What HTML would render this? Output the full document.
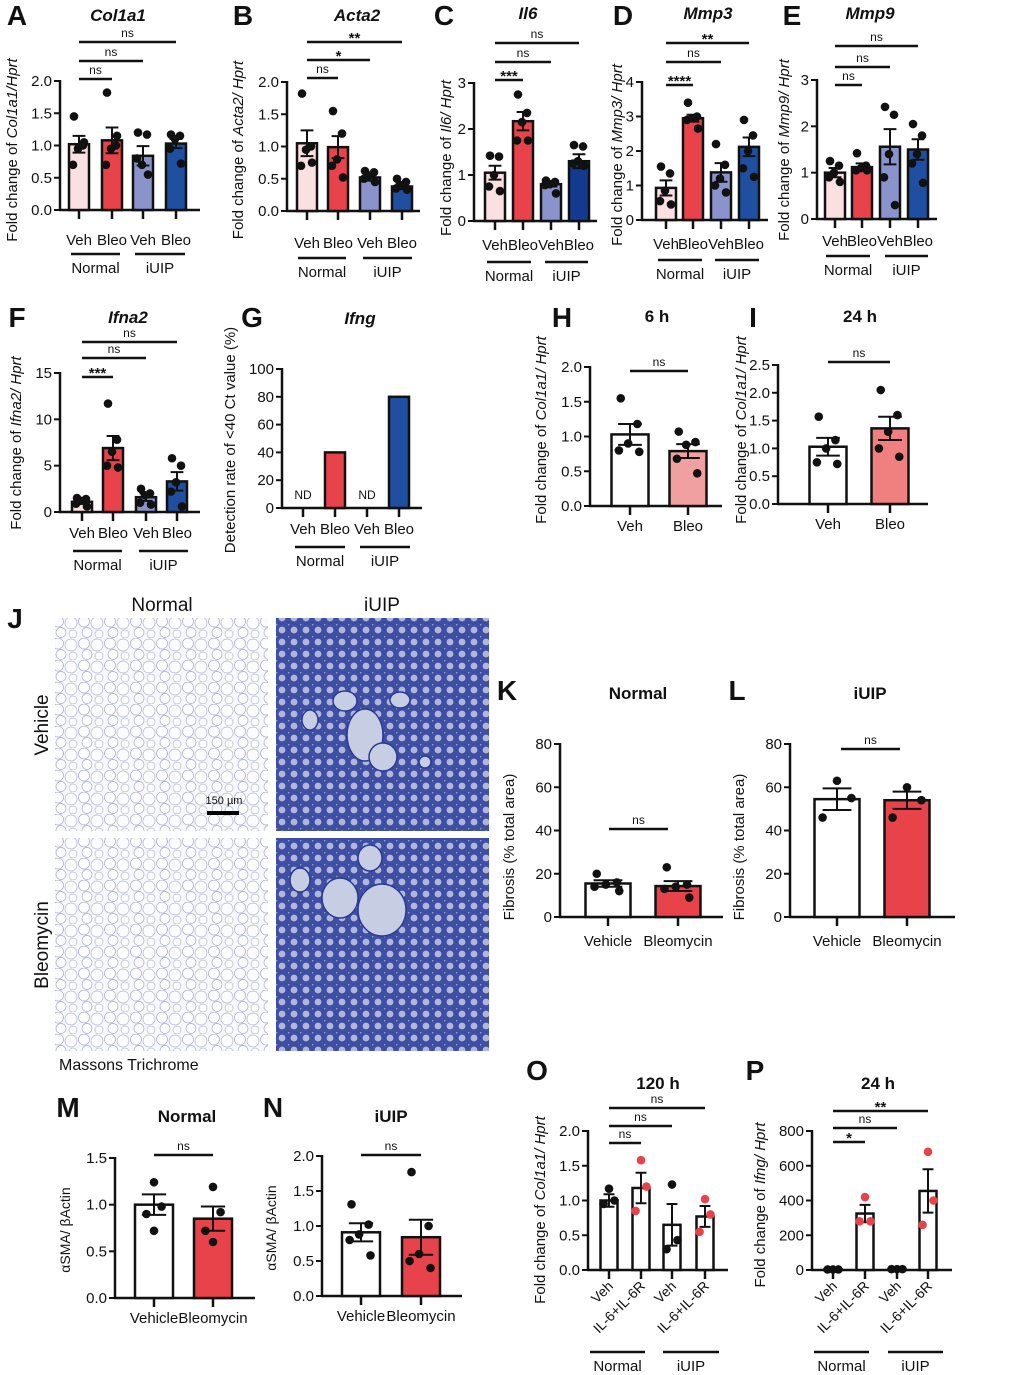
<!DOCTYPE html>
<html><head><meta charset="utf-8"><style>
html,body{margin:0;padding:0;background:#fff}
svg{display:block;font-family:"Liberation Sans",Arial,sans-serif}
</style></head><body>
<svg id="fig" width="1020" height="1375" viewBox="0 0 1020 1375" xmlns="http://www.w3.org/2000/svg">
<defs>
<pattern id="normalTex" width="26" height="22" patternUnits="userSpaceOnUse">
<rect width="26" height="22" fill="#f7f8fb"/>
<circle cx="6" cy="5.5" r="5.5" fill="#fcfcfe" stroke="#a9abcc" stroke-width="0.7"/>
<circle cx="19" cy="7" r="6" fill="#fcfcfe" stroke="#b3b5d3" stroke-width="0.7"/>
<circle cx="9" cy="16.5" r="5" fill="#fcfcfe" stroke="#a9abcc" stroke-width="0.7"/>
<circle cx="21" cy="18" r="4" fill="#fcfcfe" stroke="#b8bad6" stroke-width="0.7"/>
</pattern>
<pattern id="iuipTex" width="12" height="12" patternUnits="userSpaceOnUse">
<rect width="12" height="12" fill="#4252a8"/>
<circle cx="6" cy="6" r="3.4" fill="#c4cae8"/>
<circle cx="0" cy="0" r="1.6" fill="#9aa3d6"/>
</pattern>
</defs>
<g id="root"></g>
</svg>
<script>
// ---------- DATA ----------
const aMeans=[1.02,1.08,0.84,1.03]; const aErrs=[0.13,0.2,0.15,0.07];
const aPts=[[1.45,1.0,0.95,0.7,1.05],[1.82,1.0,0.95,0.7,1.15],[1.2,1.17,0.7,0.8,0.55],[1.17,1.15,1.1,0.95,0.72]];
const aTicks=[0,0.5,1,1.5,2];
const bMeans=[1.05,0.99,0.52,0.38]; const bErrs=[0.2,0.17,0.05,0.04];
const bPts=[[1.82,1.0,0.95,0.7,0.75],[1.55,1.2,0.8,0.7,0.52],[0.62,0.6,0.55,0.5,0.45],[0.5,0.45,0.4,0.35,0.33]];
const bTicks=[0,0.5,1,1.5,2];
const cMeans=[1.05,2.17,0.8,1.3]; const cErrs=[0.15,0.2,0.05,0.15];
const cPts=[[1.42,1.4,1.0,0.75,0.65],[2.75,2.35,2.15,1.75,1.75],[0.88,0.85,0.8,0.78,0.6],[1.65,1.62,1.3,1.25,1.2]];
const cTicks=[0,1,2,3];
const dMeans=[0.93,2.95,1.38,2.12]; const dErrs=[0.22,0.1,0.27,0.27];
const dPts=[[1.55,1.35,0.85,0.55,0.45],[3.4,3.0,2.95,2.9,2.65],[2.2,1.6,1.2,1.0,0.8],[2.9,2.45,2.0,1.5,1.25]];
const dTicks=[0,1,2,3,4];
const eMeans=[1.0,1.12,1.56,1.5]; const eErrs=[0.1,0.08,0.38,0.22];
const ePts=[[1.25,1.15,1.0,0.9,0.8],[1.42,1.15,1.1,1.05,1.05],[2.42,2.25,1.4,0.9,0.3],[2.05,1.8,1.4,1.2,0.78]];
const eTicks=[0,1,2,3];
const fMeans=[1.1,6.9,1.6,3.3]; const fErrs=[0.15,1.3,0.4,1.0];
const fPts=[[1.5,1.4,1.2,0.9,0.6],[11.7,7.8,6.5,5.0,4.8],[2.5,2.0,1.8,1.0,0.8],[5.8,5.0,3.2,2.2,0.6]];
const fTicks=[0,5,10,15];
const gValues=[0,40,0,80];
const gTicks=[0,20,40,60,80,100];
const hMeans=[1.03,0.79]; const hErrs=[0.15,0.1];
const hPts=[[1.55,1.18,0.9,0.8,0.78],[1.07,0.92,0.88,0.68,0.47]];
const hTicks=[0,0.5,1,1.5,2];
const iMeans=[1.03,1.36]; const iErrs=[0.16,0.21];
const iPts=[[1.57,1.15,1.0,0.75,0.72],[2.05,1.6,1.3,1.0,0.85]];
const iTicks=[0,0.5,1,1.5,2,2.5];
const kMeans=[15.5,14.3]; const kErrs=[1.5,2.3];
const kPts=[[20,16,15,14,12],[23,15,14,13,9]];
const kTicks=[0,20,40,60,80];
const lMeans=[54.5,54]; const lErrs=[5,4];
const lPts=[[63,55,46],[60,54,46]];
const lTicks=[0,20,40,60,80];
const mMeans=[1.0,0.85]; const mErrs=[0.11,0.13];
const mPts=[[1.24,0.98,0.9,0.72],[1.19,0.92,0.72,0.6]];
const mTicks=[0,0.5,1,1.5];
const nMeans=[0.91,0.84]; const nErrs=[0.13,0.25];
const nPts=[[1.31,1.02,0.88,0.8,0.58],[1.77,1.0,0.6,0.5,0.4]];
const nTicks=[0,0.5,1,1.5,2];
const oMeans=[1.0,1.18,0.65,0.77]; const oErrs=[0.09,0.22,0.3,0.15];
const oPts=[[1.17,1.0,0.95],[1.58,1.2,0.85],[1.23,0.43,0.3],[1.02,0.8,0.55]];
const oTicks=[0,0.5,1,1.5,2];
const pMeans=[3,325,5,455]; const pErrs=[1,50,1,125];
const pPts=[[3,3,3],[420,280,280],[5,5,5],[680,400,260]];
const pTicks=[0,200,400,600,800];
const vbLabels=["Veh","Bleo","Veh","Bleo"];
const vehBleo=["Veh","Bleo"];
const vehBleoLong=["Vehicle","Bleomycin"];
const ilLabels=["Veh","IL-6+IL-6R","Veh","IL-6+IL-6R"];

// ---------- DRAW ----------
const NS="http://www.w3.org/2000/svg";
const root=document.getElementById('root');
function mk(tag,attrs,parent){const e=document.createElementNS(NS,tag);for(const k in attrs)e.setAttribute(k,attrs[k]);(parent||root).appendChild(e);return e;}
function txt(x,y,s,size,parent,extra){const t=mk('text',Object.assign({x:x,y:y,'font-size':size,'text-anchor':'middle',fill:'#111'},extra||{}),parent);t.textContent=s;return t;}
const PINK="#fbe0e2",RED="#e8434a",LAV="#8a93cc",NAVY="#1f4fa0";
const JIT5=[-5,4,-1,-6,5],JIT3=[0,4,-4];

function panel(c,means,errs,pts,ticks,labels){
  const g=mk('g',{});
  
  
  const ys=v=>c.y0-v/c.vmax*(c.y0-c.yTop);
  const L=txt(c.lx,c.ly,c.letter,28,g,{'font-weight':'bold'});
  
  const T=txt(c.tx,c.ty,c.title,17,g,{'font-weight':'bold','font-style':c.titleItalic?'italic':'normal'});
  
  const yl=mk('text',{x:0,y:0,'font-size':c.ylSize||15,'text-anchor':'middle',fill:'#111',transform:`translate(${c.ylx},${c.yly}) rotate(-90)`},g);
  
  c.ylab.forEach(p=>{const s=mk('tspan',p[1]?{'font-style':'italic'}:{},yl);s.textContent=p[0];});
  const ax=mk('line',{x1:c.ax,y1:c.yTop-1,x2:c.ax,y2:c.y0,stroke:'#111','stroke-width':2.5},g);
  
  const xa=mk('line',{x1:c.ax-1,y1:c.y0,x2:c.right,y2:c.y0,stroke:'#111','stroke-width':2.5},g);
  
  ticks.forEach(v=>{
    const y=ys(v);
    mk('line',{x1:c.ax-6,y1:y,x2:c.ax,y2:y,stroke:'#111','stroke-width':2},g);
    const t=txt(c.ax-8,y+5,v.toFixed(c.dec),15,g,{'text-anchor':'end'});
    
  });
  means.forEach((m,i)=>{
    const cx=c.bars[i],top=ys(m);
    mk('line',{x1:cx,y1:c.y0,x2:cx,y2:c.y0+9,stroke:'#111','stroke-width':2.5},g);
    const r=mk('rect',{x:cx-c.bw/2,y:top,width:c.bw,height:Math.max(0,c.y0-top),fill:c.colors[i],stroke:'#111','stroke-width':2.5},g);
    
    if(errs){
      const e=errs[i],cap=c.bw*0.32;
      mk('path',{d:`M${cx},${ys(m-e)}V${ys(m+e)}M${cx-cap},${ys(m+e)}H${cx+cap}M${cx-cap},${ys(m-e)}H${cx+cap}`,stroke:'#111','stroke-width':2,fill:'none'},g);
    }
    if(pts){
      const jit=pts[i].length===5?JIT5:(pts[i].length===3?JIT3:[0,4,-4,0]);
      pts[i].forEach((v,k)=>{
        const d=mk('circle',{cx:cx+jit[k]*(c.bw/20)*(pts[i].length===3?1.6:1),cy:ys(v),r:4.3,fill:c.ptColors?c.ptColors[i]:'#111'},g);
        
      });
    }
    if(labels){
      let t;
      if(c.rot){t=txt(0,0,labels[i],14,g,{'text-anchor':'end',transform:`translate(${cx+5},${c.y0+17}) rotate(-45)`});}
      else t=txt(cx,c.xly,labels[i],15,g);
      
    }
  });
  if(c.nd) c.nd.forEach(i=>{const t=txt(c.bars[i],c.y0-9,'ND',12,g);});
  (c.sig||[]).forEach(s=>{
    const x1=s[4]!==undefined?s[4]:c.bars[s[0]],x2=s[5]!==undefined?s[5]:c.bars[s[1]];
    mk('line',{x1:x1,y1:s[2],x2:x2,y2:s[2],stroke:'#111','stroke-width':2.5},g);
    const t=txt((x1+x2)/2,s[3]==='ns'?s[2]-5:s[2]+1,s[3],s[3]==='ns'?12:15,g,{'font-weight':s[3]==='ns'?'normal':'bold'});
    
  });
  (c.groups||[]).forEach(gp=>{
    mk('line',{x1:gp[0],y1:c.gy,x2:gp[1],y2:c.gy,stroke:'#111','stroke-width':2.5},g);
    const t=txt((gp[0]+gp[1])/2,c.gy+19,gp[2],15,g);
    
  });
}
const C4=[PINK,RED,LAV,NAVY];
panel({name:'panel-a-col1a1',letter:'A',lx:17,ly:25,title:'Col1a1',titleItalic:1,tx:118,ty:21,ylab:[['Fold change of '],['Col1a1/Hprt',1]],ylx:17,yly:150,
 ax:60,y0:210,yTop:81,vmax:2,dec:1,right:200,bars:[79,112,143,176],bw:20,colors:C4,xly:245,gy:254,groups:[[71,120,'Normal'],[135,185,'iUIP']],
 sig:[[0,1,79,'ns'],[0,2,61,'ns'],[0,3,42,'ns']]},aMeans,aErrs,aPts,aTicks,vbLabels);
panel({name:'panel-b-acta2',letter:'B',lx:243,ly:25,title:'Acta2',titleItalic:1,tx:357,ty:21,ylab:[['Fold change of '],['Acta2/ Hprt',1]],ylx:243,yly:150,
 ax:287,y0:211,yTop:82,vmax:2,dec:1,right:420,bars:[307,338,370,402],bw:20,colors:C4,xly:248,gy:258,groups:[[298,346,'Normal'],[363,412,'iUIP']],
 sig:[[0,1,78,'ns'],[0,2,60,'*'],[0,3,42,'**']]},bMeans,bErrs,bPts,bTicks,vbLabels);
panel({name:'panel-c-il6',letter:'C',lx:444,ly:25,title:'Il6',titleItalic:1,tx:528,ty:19,ylab:[['Fold change of '],['Il6/ Hprt',1]],ylx:451,yly:158,
 ax:474,y0:221,yTop:83,vmax:3,dec:0,right:597,bars:[495,523,551,579],bw:20,colors:[PINK,RED,LAV,'#123a8f'],xly:250,gy:262,groups:[[487,531,'Normal'],[545,588,'iUIP']],
 sig:[[0,1,80,'***'],[0,2,62,'ns'],[0,3,43,'ns']]},cMeans,cErrs,cPts,cTicks,vbLabels);
panel({name:'panel-d-mmp3',letter:'D',lx:623,ly:25,title:'Mmp3',titleItalic:1,tx:708,ty:19,ylab:[['Fold change of '],['Mmp3/ Hprt',1]],ylx:622,yly:155,
 ax:642,y0:220,yTop:82,vmax:4,dec:0,right:768,bars:[666,693,721,749],bw:20,colors:C4,xly:249,gy:260,groups:[[658,702,'Normal'],[715,759,'iUIP']],
 sig:[[0,1,85,'****'],[0,2,62,'ns'],[0,3,43,'**']]},dMeans,dErrs,dPts,dTicks,vbLabels);
panel({name:'panel-e-mmp9',letter:'E',lx:792,ly:25,title:'Mmp9',titleItalic:1,tx:870,ty:19,ylab:[['Fold change of '],['Mmp9/ Hprt',1]],ylx:789,yly:150,
 ax:817,y0:219,yTop:80,vmax:3,dec:0,right:937,bars:[835,862,890,918],bw:20,colors:C4,xly:246,gy:256,groups:[[826,870,'Normal'],[885,928,'iUIP']],
 sig:[[0,1,85,'ns'],[0,2,67,'ns'],[0,3,46,'ns']]},eMeans,eErrs,ePts,eTicks,vbLabels);
panel({name:'panel-f-ifna2',letter:'F',lx:17,ly:327,title:'Ifna2',titleItalic:1,tx:128,ty:323,ylab:[['Fold change of '],['Ifna2/ Hprt',1]],ylx:21,yly:443,
 ax:60,y0:512,yTop:373,vmax:15,dec:0,right:200,bars:[82,113,146,177],bw:20,colors:C4,xly:538,gy:551,groups:[[73,122,'Normal'],[139,188,'iUIP']],
 sig:[[0,1,377,'***'],[0,2,358,'ns'],[0,3,342,'ns']]},fMeans,fErrs,fPts,fTicks,vbLabels);
panel({name:'panel-g-ifng',letter:'G',lx:252,ly:327,title:'Ifng',titleItalic:1,tx:360,ty:324,ylab:[['Detection rate of <40 Ct value (%)']],ylx:235,yly:440,
 ax:282,y0:508,yTop:369,vmax:100,dec:0,right:422,bars:[303,335,367,399],bw:20,colors:['#fff',RED,'#fff',NAVY],xly:534,gy:547,groups:[[295,345,'Normal'],[360,410,'iUIP']],nd:[0,2]},gValues,null,null,gTicks,vbLabels);
panel({name:'panel-h-6h',letter:'H',lx:562,ly:327,title:'6 h',tx:657,ty:322,ylab:[['Fold change of '],['Col1a1/ Hprt',1]],ylx:546,yly:430,
 ax:590,y0:506,yTop:367,vmax:2,dec:1,right:722,bars:[630,688],bw:37,colors:['#fff','#f0a0a0'],xly:531,
 sig:[[0,1,371,'ns']]},hMeans,hErrs,hPts,hTicks,vehBleo);
panel({name:'panel-i-24h',letter:'I',lx:753,ly:327,title:'24 h',tx:860,ty:322,ylab:[['Fold change of '],['Col1a1/ Hprt',1]],ylx:746,yly:430,
 ax:778,y0:504,yTop:365,vmax:2.5,dec:1,right:928,bars:[828,890],bw:37,colors:['#fff','#f08080'],xly:529,
 sig:[[0,1,362,'ns']]},iMeans,iErrs,iPts,iTicks,vehBleo);
panel({name:'panel-k-normal',letter:'K',lx:507,ly:700,title:'Normal',tx:638,ty:699,ylab:[['Fibrosis (% total area)']],ylx:514,yly:847,
 ax:560,y0:917,yTop:744,vmax:80,dec:0,right:723,bars:[608,678],bw:45,colors:['#fff',RED],xly:946,
 sig:[[0,1,829,'ns',609,668]]},kMeans,kErrs,kPts,kTicks,vehBleoLong);
panel({name:'panel-l-iuip',letter:'L',lx:737,ly:700,title:'iUIP',tx:870,ty:699,ylab:[['Fibrosis (% total area)']],ylx:744,yly:847,
 ax:790,y0:917,yTop:744,vmax:80,dec:0,right:955,bars:[837,907],bw:45,colors:['#fff',RED],xly:946,
 sig:[[0,1,749,'ns',841,900]]},lMeans,lErrs,lPts,lTicks,vehBleoLong);
panel({name:'panel-m-normal',letter:'M',lx:68,ly:1117,title:'Normal',tx:187,ty:1122,ylab:[['αSMA/ βActin']],ylx:70,yly:1230,ylSize:14,
 ax:115,y0:1298,yTop:1158,vmax:1.5,dec:1,right:255,bars:[154,213],bw:38,colors:['#fff',RED],xly:1323,
 sig:[[0,1,1155,'ns']]},mMeans,mErrs,mPts,mTicks,vehBleoLong);
panel({name:'panel-n-iuip',letter:'N',lx:273,ly:1117,title:'iUIP',tx:391,ty:1122,ylab:[['αSMA/ βActin']],ylx:276,yly:1228,ylSize:14,
 ax:322,y0:1296,yTop:1156,vmax:2,dec:1,right:462,bars:[361,421],bw:38,colors:['#fff',RED],xly:1321,
 sig:[[0,1,1155,'ns']]},nMeans,nErrs,nPts,nTicks,vehBleoLong);
panel({name:'panel-o-120h',letter:'O',lx:537,ly:1080,title:'120 h',tx:658,ty:1089,ylab:[['Fold change of '],['Col1a1/ Hprt',1]],ylx:545,yly:1210,
 ax:588,y0:1270,yTop:1131,vmax:2,dec:1,right:728,bars:[609,641,672,705],bw:17,colors:['#fff','#fff','#fff','#fff'],ptColors:['#111',RED,'#111',RED],rot:1,gy:1352,groups:[[590,645,'Normal'],[663,719,'iUIP']],
 sig:[[0,1,1143,'ns'],[0,2,1126,'ns'],[0,3,1108,'ns']]},oMeans,oErrs,oPts,oTicks,ilLabels);
panel({name:'panel-p-24h',letter:'P',lx:755,ly:1080,title:'24 h',tx:878,ty:1089,ylab:[['Fold change of '],['Ifng/ Hprt',1]],ylx:765,yly:1205,
 ax:812,y0:1270,yTop:1131,vmax:800,dec:0,right:952,bars:[833,865,897,928],bw:17,colors:['#fff','#fff','#fff','#fff'],ptColors:['#111',RED,'#111',RED],rot:1,gy:1352,groups:[[814,869,'Normal'],[888,943,'iUIP']],
 sig:[[0,1,1142,'*'],[0,2,1128,'ns'],[0,3,1111,'**']]},pMeans,pErrs,pPts,pTicks,ilLabels);

// ---------- PANEL J (histology) ----------
const gj=mk('g',{});


txt(15,628,'J',28,gj,{'font-weight':'bold'});
txt(162,611,'Normal',19,gj);
txt(382,611,'iUIP',19,gj);
txt(0,0,'Vehicle',19,gj,{transform:'translate(48,725) rotate(-90)'});
txt(0,0,'Bleomycin',19,gj,{transform:'translate(48,945) rotate(-90)'});
txt(59,1070,'Massons Trichrome',16,gj,{'text-anchor':'start'});
const imgs=[[55,618,'normalTex','normal-vehicle-image'],[55,838,'normalTex','normal-bleomycin-image'],[276,618,'iuipTex','iuip-vehicle-image'],[276,838,'iuipTex','iuip-bleomycin-image']];
imgs.forEach(m=>{
  const r=mk('rect',{x:m[0],y:m[1],width:213,height:213,fill:`url(#${m[2]})`},gj);
  
  
});
[[365,735,18,26],[383,757,14,14],[345,701,12,10],[310,720,8,10],[400,700,10,8],[340,898,18,20],[382,910,24,26],[370,858,12,13],[425,762,6,6],[300,880,10,12]].forEach(e=>{
  mk('ellipse',{cx:e[0],cy:e[1],rx:e[2],ry:e[3],fill:'#dfe3ef',stroke:'#2c3c94','stroke-width':1.5},gj);
});
mk('rect',{x:276,y:618,width:213,height:213,fill:'#1f2f85',opacity:0.12},gj);
mk('rect',{x:276,y:838,width:213,height:213,fill:'#1f2f85',opacity:0.12},gj);
txt(224,804,'150 µm',11,gj);
mk('rect',{x:207,y:811,width:32,height:4,fill:'#000'},gj);
</script>
</body></html>
